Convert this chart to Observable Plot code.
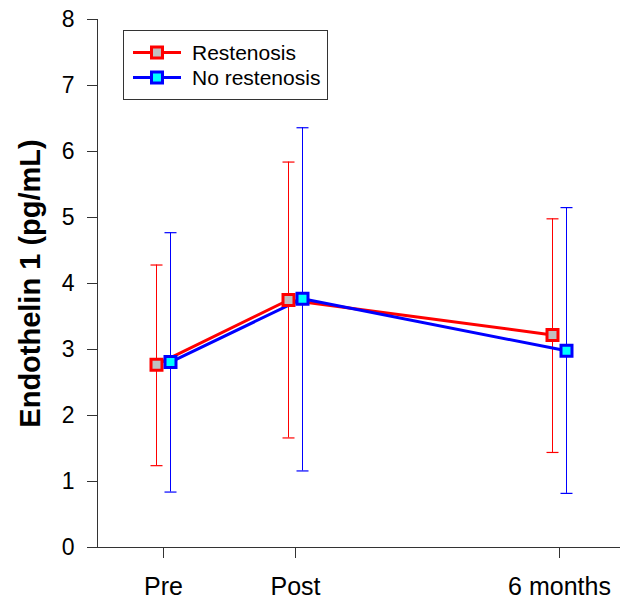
<!DOCTYPE html>
<html><head><meta charset="utf-8">
<script src="https://cdn.jsdelivr.net/npm/d3@7"></script>
<script src="https://cdn.jsdelivr.net/npm/@observablehq/plot@0.6"></script>
<style>body{margin:0;background:#fff}</style>
</head><body><div id="chart"></div>
<script>
const timeLabels = ["Pre", "Post", "6 months"];
const timePositions = [0, 1, 3];
const seriesNames = ["Restenosis", "No restenosis"];
const restenosisMean = [2.77, 3.75, 3.22];
const restenosisUpper = [4.28, 5.84, 4.98];
const restenosisLower = [1.24, 1.66, 1.44];
const noRestenosisMean = [2.81, 3.77, 2.98];
const noRestenosisUpper = [4.77, 6.36, 5.15];
const noRestenosisLower = [0.84, 1.16, 0.82];
const yTicks = [0, 1, 2, 3, 4, 5, 6, 7, 8];
const yLabel = "Endothelin 1 (pg/mL)";

const build = (mean, lo, hi) => timePositions.map((t, i) => ({t, mean: mean[i], lo: lo[i], hi: hi[i]}));
const restRows = build(restenosisMean, restenosisLower, restenosisUpper);
const noRows = build(noRestenosisMean, noRestenosisLower, noRestenosisUpper);

const series = [
  {name: seriesNames[0], rows: restRows, stroke: "#ff0000", fill: "#c0c0c0", dx: -7},
  {name: seriesNames[1], rows: noRows, stroke: "#0000ff", fill: "#00ffff", dx: 7}
];

const capSymbol = {draw(ctx) { ctx.moveTo(-6, 0); ctx.lineTo(6, 0); }};

const marks = [];
for (const s of series) {
  marks.push(Plot.ruleX(s.rows, {x: "t", y1: "lo", y2: "hi", dx: s.dx, stroke: s.stroke, strokeWidth: 1}));
  marks.push(Plot.dot(s.rows, {x: "t", y: "hi", dx: s.dx, symbol: capSymbol, fill: "none", stroke: s.stroke, strokeWidth: 1.2}));
  marks.push(Plot.dot(s.rows, {x: "t", y: "lo", dx: s.dx, symbol: capSymbol, fill: "none", stroke: s.stroke, strokeWidth: 1.2}));
}
for (const s of series) {
  marks.push(Plot.line(s.rows, {x: "t", y: "mean", dx: s.dx, stroke: s.stroke, strokeWidth: 3}));
}
for (const s of series) {
  marks.push(Plot.dot(s.rows, {x: "t", y: "mean", dx: s.dx, symbol: "square", r: 6.2, fill: s.fill, stroke: s.stroke, strokeWidth: 3}));
}

const chart = Plot.plot({
  width: 620,
  height: 605,
  marginLeft: 97,
  marginRight: 0,
  marginTop: 19,
  marginBottom: 58,
  style: {fontFamily: "'Liberation Sans', Arial, sans-serif", background: "#fff", color: "#000", overflow: "visible"},
  x: {domain: [-0.5, 3.5], range: [97, 625], label: null},
  y: {domain: [0, 8], label: null},
  marks: [
    Plot.ruleY([0], {stroke: "#333", strokeWidth: 1}),
    Plot.ruleX([-0.5], {stroke: "#333", strokeWidth: 1}),
    Plot.axisY({ticks: yTicks, tickSize: 10, tickPadding: 13, fontSize: 23, stroke: "#333", fill: "#000", label: null}),
    Plot.axisX({ticks: timePositions, tickFormat: d => timeLabels[timePositions.indexOf(d)], tickSize: 11, tickPadding: 19, fontSize: 25, stroke: "#333", fill: "#000", label: null}),
    Plot.text([yLabel], {text: d => d, frameAnchor: "left", textAnchor: "middle", dx: -67, rotate: -90, fontSize: 29, fontWeight: "bold", fill: "#000"}),
    ...marks
  ]
});
document.getElementById("chart").appendChild(chart);

// legend
const svg = d3.select(chart);
const lg = svg.append("g");
lg.append("rect").attr("x", 123.5).attr("y", 30.5).attr("width", 204).attr("height", 69)
  .attr("fill", "#fff").attr("stroke", "#333").attr("stroke-width", 1);
series.forEach((s, i) => {
  const y = 52.5 + i * 25;
  lg.append("line").attr("x1", 133).attr("x2", 181).attr("y1", y).attr("y2", y)
    .attr("stroke", s.stroke).attr("stroke-width", 3);
  lg.append("rect").attr("x", 151.5).attr("y", y - 5.5).attr("width", 11).attr("height", 11)
    .attr("fill", s.fill).attr("stroke", s.stroke).attr("stroke-width", 3);
  lg.append("text").attr("x", 192).attr("y", y).attr("dy", "0.35em")
    .attr("text-anchor", "start").attr("font-size", 21).attr("fill", "#000").text(s.name);
});
</script>
</body></html>
